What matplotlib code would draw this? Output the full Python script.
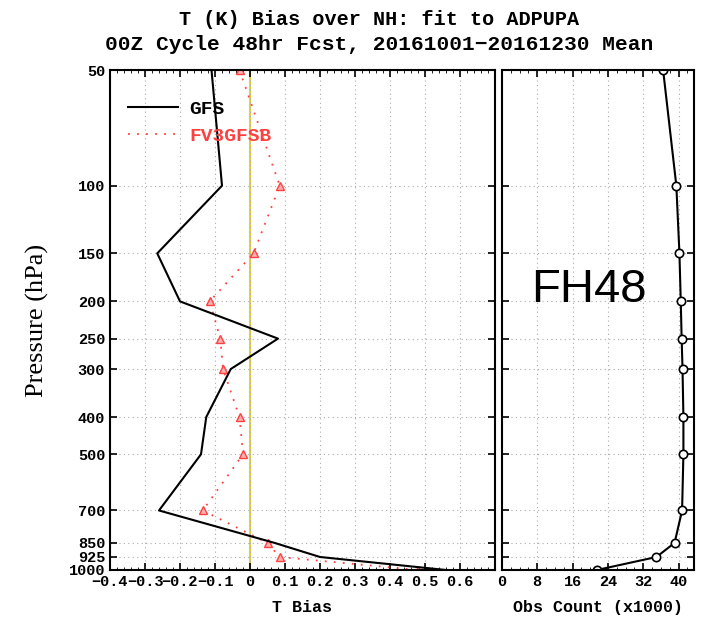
import numpy as np
import matplotlib
matplotlib.use("Agg")
import matplotlib.pyplot as plt
import matplotlib.ticker as ticker

# pressure levels (hPa)
levels = [50, 100, 150, 200, 250, 300, 400, 500, 700, 850, 925, 1000]
level_labels = ["50", "100", "150", "200", "250", "300", "400", "500", "700", "850", "925", "1000"]

# T bias (K)
gfs_bias = [-0.11, -0.08, -0.265, -0.2, 0.08, -0.055, -0.125, -0.14, -0.26, 0.07, 0.2, 0.56]
fv3_bias = [-0.03, 0.085, 0.01, -0.115, -0.085, -0.077, -0.03, -0.02, -0.135, 0.05, 0.085, 0.48]

# obs count (x1000)
obs_count = [36.5, 39.5, 40.2, 40.5, 40.7, 40.9, 41.1, 41.1, 40.8, 39.1, 35.0, 21.5]

bias_ticks = [-0.4, -0.3, -0.2, -0.1, 0, 0.1, 0.2, 0.3, 0.4, 0.5, 0.6]
bias_labels = ["\u22120.4", "\u22120.3", "\u22120.2", "\u22120.1", "0", "0.1", "0.2", "0.3", "0.4", "0.5", "0.6"]
count_ticks = [0, 8, 16, 24, 32, 40]

mono = "Liberation Mono"

fig = plt.figure(figsize=(7.11, 6.27), dpi=100)
ax1 = fig.add_axes([110 / 711, 57 / 627, 385 / 711, 500 / 627])
ax2 = fig.add_axes([502 / 711, 57 / 627, 192 / 711, 500 / 627])

# left panel
ax1.axvline(0, color="#e0d040", lw=1.5, zorder=1)
ax1.plot(gfs_bias, levels, color="black", lw=1.5, label="GFS", zorder=3)
ax1.plot(fv3_bias, levels, color="#ff4040", lw=1.3, ls=(0, (1, 4)),
         marker="^", ms=6, mfc="#ffb0b0", mec="#ff4040", label="FV3GFSB", zorder=2)

for ax in (ax1, ax2):
    ax.set_yscale("log")
    ax.set_ylim(1000, 50)
    ax.yaxis.set_major_locator(ticker.FixedLocator(levels))
    ax.yaxis.set_minor_locator(ticker.NullLocator())
    ax.grid(True, color="#aaaaaa", ls=(0, (1, 3)), lw=0.8)
    ax.tick_params(direction="in", top=True, right=True, length=5, width=1.2)
    for s in ax.spines.values():
        s.set_linewidth(1.5)

ax1.set_yticklabels(level_labels, fontfamily=mono, fontweight="bold", fontsize=11)
ax1.set_xlim(-0.4, 0.7)
ax1.set_xticks(bias_ticks)
ax1.set_xticklabels(bias_labels, fontfamily=mono, fontweight="bold", fontsize=11)
ax1.xaxis.set_minor_locator(ticker.MultipleLocator(0.02))
ax1.tick_params(which="minor", direction="in", top=True, length=2)
ax1.set_xlabel("T Bias", fontfamily=mono, fontweight="bold", fontsize=12, labelpad=8)
ax1.set_ylabel("Pressure (hPa)", fontfamily="Liberation Serif", fontsize=19, labelpad=14)

leg = ax1.legend(loc="upper left", bbox_to_anchor=(0.0, 0.975), frameon=False,
                 handlelength=2.6, handletextpad=0.6, labelspacing=0.5,
                 prop={"family": mono, "weight": "bold", "size": 14})
for line in leg.get_lines():
    line.set_marker("")
leg.get_texts()[1].set_color("#ff4040")

# right panel
ax2.plot(obs_count, levels, color="black", lw=1.5, marker="o", ms=6,
         mfc="white", mec="black", mew=1.2)
ax2.set_xlim(0, 43.5)
ax2.set_xticks(count_ticks)
ax2.set_xticklabels([str(t) for t in count_ticks], fontfamily=mono, fontweight="bold", fontsize=11)
ax2.xaxis.set_minor_locator(ticker.MultipleLocator(2))
ax2.tick_params(which="minor", direction="in", top=True, length=2)
ax2.set_yticklabels([])
ax2.set_xlabel("Obs Count (x1000)", fontfamily=mono, fontweight="bold", fontsize=12, labelpad=8)
ax2.text(0.45, 0.56, "FH48", transform=ax2.transAxes, ha="center", va="center",
         fontfamily="Liberation Sans", fontsize=34)

fig.text(379 / 711, 0.969, "T (K) Bias over NH: fit to ADPUPA", ha="center", va="center",
         fontfamily=mono, fontweight="bold", fontsize=14.5)
fig.text(379 / 711, 0.929, "00Z Cycle 48hr Fcst, 20161001\u221220161230 Mean", ha="center", va="center",
         fontfamily=mono, fontweight="bold", fontsize=15.3)

fig.savefig("out.png", dpi=100)
